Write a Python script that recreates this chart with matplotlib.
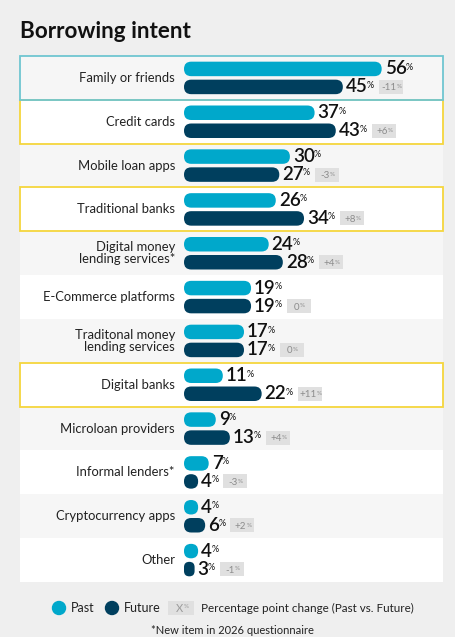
import matplotlib
matplotlib.use("Agg")
from matplotlib import pyplot
from matplotlib.patches import FancyBboxPatch, Rectangle, Circle

categories = ["Family or friends", "Credit cards", "Mobile loan apps", "Traditional banks",
              "Digital money\nlending services*", "E-Commerce platforms",
              "Traditonal money\nlending services", "Digital banks", "Microloan providers",
              "Informal lenders*", "Cryptocurrency apps", "Other"]
past = [56, 37, 30, 26, 24, 19, 17, 11, 9, 7, 4, 4]
future = [45, 43, 27, 34, 28, 19, 17, 22, 13, 4, 6, 3]
changes = [f - p for p, f in zip(past, future)]
highlight = {0: "#6fc6d1", 1: "#f5d63d", 3: "#f5d63d", 7: "#f5d63d"}

PAST_C = "#00a8cb"
FUTURE_C = "#003f5e"
FONT = "Lato"

W, H = 456, 637
fig = pyplot.figure(figsize=(W / 100, H / 100), dpi=100, facecolor="#efefef")

# main panel: pixel box of the rows
left, right, top, bottom = 20, 443, 56, 582
ax = fig.add_axes([left / W, 1 - bottom / H, (right - left) / W, (bottom - top) / H])
ax.set_facecolor("none")
ax.axis("off")

px_x = 3.53  # pixels per percent
bar0 = 184   # pixel where bars start
xmin = -(bar0 - left) / px_x
xmax = (right - bar0) / px_x
n = len(categories)
px_y = (bottom - top) / n
ax.set_xlim(xmin, xmax)
ax.set_ylim(n - 0.5, -0.5)

bar_h_px = 14.5
bar_h = bar_h_px / px_y
aspect = px_x / px_y
off_past = -9 / px_y
off_future = 9 / px_y

# row backgrounds
for i in range(n):
    ax.add_patch(Rectangle((xmin, i - 0.5), xmax - xmin, 1,
                           facecolor="#f6f6f6" if i % 2 == 0 else "#ffffff",
                           edgecolor="none", zorder=0))
for i in sorted(highlight, reverse=True):
    ax.add_patch(Rectangle((xmin, i - 0.5), xmax - xmin, 1, fill=False,
                           edgecolor=highlight[i], lw=1.3, zorder=1, clip_on=False))


def rounded_bar(v, yc, color):
    r_px = min(bar_h_px / 2, v * px_x / 2)
    p = FancyBboxPatch((0, yc - bar_h / 2), v, bar_h,
                       boxstyle=f"round,pad=0,rounding_size={r_px / px_x}",
                       mutation_aspect=aspect, facecolor=color, edgecolor="none", zorder=2)
    ax.add_patch(p)


def value_label(v, yc):
    t = ax.text(v + 3 / px_x, yc, f"{v}", fontsize=13.5, fontweight="semibold",
                family=FONT, color="#111111", ha="left", va="center", zorder=3)
    pct = ax.annotate("%", xy=(1, 0.86), xycoords=t, xytext=(-0.6, 0),
                      textcoords="offset points", fontsize=6.5, family=FONT,
                      color="#111111", ha="left", va="top", zorder=3)
    return pct


pct_labels = []
for i, (cat, p, f) in enumerate(zip(categories, past, future)):
    ax.text(-9 / px_x, i, cat, fontsize=9.4, family=FONT, color="#222222",
            ha="right", va="center", linespacing=0.95)
    rounded_bar(p, i + off_past, PAST_C)
    rounded_bar(f, i + off_future, FUTURE_C)
    value_label(p, i + off_past)
    pct_labels.append(value_label(f, i + off_future))

# change boxes placed after the future labels
fig.canvas.draw()
renderer = fig.canvas.get_renderer()
inv = ax.transData.inverted()
box_w, box_h = 24 / px_x, 14 / px_y
for i, (pct, c) in enumerate(zip(pct_labels, changes)):
    bb = pct.get_window_extent(renderer)
    x0 = inv.transform((bb.x1, 0))[0] + 5 / px_x
    yc = i + off_future
    ax.add_patch(Rectangle((x0, yc - box_h / 2), box_w, box_h, facecolor="#e0e0e0",
                           edgecolor="none", zorder=2))
    s = f"+{c}" if c > 0 else f"{c}"
    dt = ax.text(x0 + box_w / 2 - 2 / px_x, yc + 1 / px_y, s, fontsize=7, family=FONT,
                 color="#8c8c8c", ha="center", va="center", zorder=3)
    ax.annotate("%", xy=(1, 0.9), xycoords=dt, xytext=(0.1, 0), textcoords="offset points",
                fontsize=4.5, family=FONT, color="#8c8c8c", ha="left", va="top", zorder=3)

# title
fig.text(20 / W, 1 - 31 / H, "Borrowing intent", fontsize=16.2, fontweight="bold",
         family=FONT, color="#111111", ha="left", va="center")

# legend in a pixel-space axes
lg = fig.add_axes([0, 0, 1, 50 / H])
lg.set_xlim(0, W)
lg.set_ylim(H, H - 50)
lg.axis("off")
lg.set_aspect("equal")
ly = 608
lg.add_patch(Circle((59, ly), 6.5, color=PAST_C))
lg.text(71, ly, "Past", fontsize=9, family=FONT, color="#222222", va="center")
lg.add_patch(Circle((112, ly), 6.5, color=FUTURE_C))
lg.text(124, ly, "Future", fontsize=9, family=FONT, color="#222222", va="center")
lg.add_patch(Rectangle((168, ly - 7), 26, 14, facecolor="#e0e0e0", edgecolor="none"))
xt = lg.text(180, ly, "X", fontsize=8, family=FONT, color="#9a9a9a", ha="center", va="center")
lg.annotate("%", xy=(1, 0.9), xycoords=xt, xytext=(0.2, 0), textcoords="offset points",
            fontsize=4.5, family=FONT, color="#9a9a9a", ha="left", va="top")
lg.text(201, ly, "Percentage point change (Past vs. Future)", fontsize=8.4, family=FONT,
        color="#222222", va="center")
lg.text(232, 630, "*New item in 2026 questionnaire", fontsize=8, family=FONT,
        color="#222222", ha="center", va="center")

pyplot.savefig("out.png", dpi=100, facecolor=fig.get_facecolor())
